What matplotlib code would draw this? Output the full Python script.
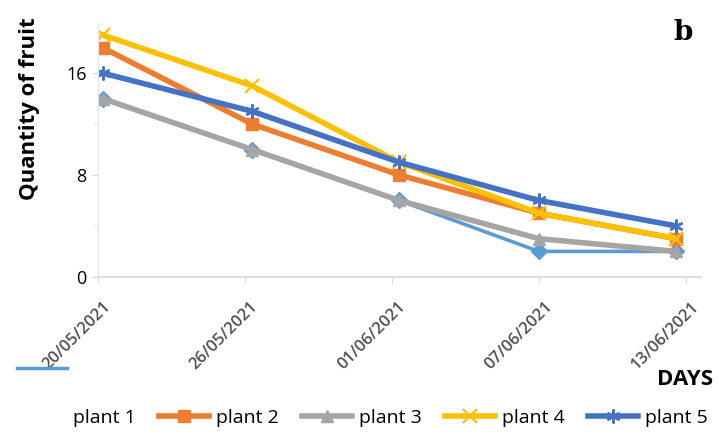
import numpy as np
from matplotlib import pyplot as plt
from matplotlib.lines import Line2D
from matplotlib.transforms import ScaledTranslation

# days since 20/05/2021 where the samples sit on the date axis
days = [0.2, 6.3, 12.3, 18.0, 23.6]
tick_days = [0, 6, 12, 18, 24]
tick_labels = ['20/05/2021', '26/05/2021', '01/06/2021', '07/06/2021', '13/06/2021']

plant1 = [14, 10, 6, 2, 2]
plant2 = [18, 12, 8, 5, 3]
plant3 = [14, 10, 6, 3, 2]
plant4 = [19, 15, 9, 5, 3]
plant5 = [16, 13, 9, 6, 4]

plt.rcParams['font.family'] = ['Open Sans', 'DejaVu Sans']

fig = plt.figure(figsize=(7.18, 4.34), dpi=100)
ax = fig.add_axes([0.136, 0.362, 0.84, 0.587])

lw = 2.6
ax.plot(days, plant1, color='#5B9BD5', lw=lw, marker='D', ms=8, label='plant 1')
ax.plot(days, plant2, color='#ED7D31', lw=lw, marker='s', ms=9, label='plant 2')
ax.plot(days, plant3, color='#A5A5A5', lw=lw, marker='^', ms=9, label='plant 3')
ax.plot(days, plant4, color='#FFC000', lw=lw, marker='x', ms=10, mew=1.6, label='plant 4')
ax.plot(days, plant5, color='#4472C4', lw=lw, marker=(6, 2, 0), ms=10, mew=1.6, label='plant 5')

ax.set_xlim(0, 24.6)
ax.set_ylim(0, 20)
ax.set_yticks([0, 8, 16])
ax.set_yticks([4, 12], minor=True)
ax.set_xticks(tick_days)
ax.set_xticklabels(tick_labels, rotation=45, ha='right', va='center', rotation_mode='anchor',
                   fontsize=12, color='#505050', fontweight='semibold')
ax.tick_params(axis='y', labelsize=13, length=4, color='#D9D9D9', pad=4)
ax.tick_params(axis='y', which='minor', length=3, color='#D9D9D9')
ax.tick_params(axis='x', length=4, color='#D9D9D9', pad=0)
# shift the rotated date labels so their ends sit just right of / below each tick
shift = ScaledTranslation(0.11, -0.215, fig.dpi_scale_trans)
for t in ax.get_xticklabels():
    t.set_transform(t.get_transform() + shift)

for s in ['top', 'right']:
    ax.spines[s].set_visible(False)
ax.spines['left'].set_color('#E4E4F4')
ax.spines['bottom'].set_color('#D9D9D9')
ax.spines['bottom'].set_linewidth(1.2)

ax.set_ylabel('Quantity of fruit', fontsize=16, fontweight='bold')
ax.yaxis.set_label_coords(-0.096, 0.66)
fig.text(0.993, 0.125, 'DAYS', fontsize=16, fontweight='bold', ha='right', va='center')
fig.text(0.951, 0.908, 'b', fontsize=20, fontweight='bold', family='DejaVu Serif', ha='center')

# legend: plant 1 key is missing in the original (drawn elsewhere)
handles, labels = ax.get_legend_handles_labels()
handles[0] = Line2D([], [], color='none')
for h in handles[1:]:
    h.set_linewidth(4)
leg = fig.legend(handles, labels, loc='center left', ncol=5, frameon=False,
                 fontsize=14, bbox_to_anchor=(0.022, 0.037), handlelength=2.57,
                 columnspacing=1.2, handletextpad=0.36, borderpad=0, borderaxespad=0)

# stray plant 1 key near the first date label
fig.add_artist(Line2D([0.024, 0.093], [0.152, 0.152], color='#5B9BD5', lw=2.5))

fig.savefig('out.png', dpi=100)
